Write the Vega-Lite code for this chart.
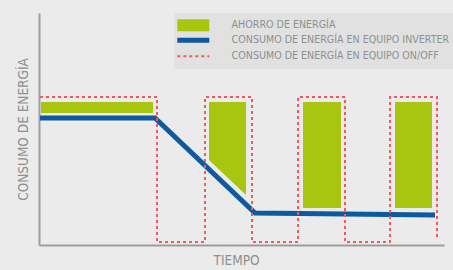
{
  "$schema": "https://vega.github.io/schema/vega-lite/v6.json",
  "width": 405,
  "height": 232,
  "autosize": "none",
  "padding": {"left": 39, "top": 13, "right": 9, "bottom": 25},
  "background": "#ebebeb",
  "config": {
    "view": {"stroke": null},
    "font": "Liberation Sans Narrow, DejaVu Sans Condensed, Roboto, sans-serif",
    "axis": {
      "domainColor": "#9e9e9e",
      "domainWidth": 2,
      "ticks": false,
      "labels": false,
      "grid": false,
      "titleColor": "#8f8f8f",
      "titleFontSize": 13.5,
      "titleFontWeight": "normal",
      "titleFont": "Liberation Sans Narrow, DejaVu Sans Condensed, Roboto, sans-serif"
    }
  },
  "datasets": {
    "ahorro": [
      {"id": 1, "t": 2, "bajo": 132, "alto": 143, "serie": "AHORRO DE ENERGÍA"},
      {"id": 1, "t": 114, "bajo": 132, "alto": 143, "serie": "AHORRO DE ENERGÍA"},
      {"id": 2, "t": 170, "bajo": 85, "alto": 143, "serie": "AHORRO DE ENERGÍA"},
      {"id": 2, "t": 207, "bajo": 50, "alto": 143, "serie": "AHORRO DE ENERGÍA"},
      {"id": 3, "t": 264, "bajo": 37, "alto": 143, "serie": "AHORRO DE ENERGÍA"},
      {"id": 3, "t": 302, "bajo": 37, "alto": 143, "serie": "AHORRO DE ENERGÍA"},
      {"id": 4, "t": 356, "bajo": 37, "alto": 143, "serie": "AHORRO DE ENERGÍA"},
      {"id": 4, "t": 393, "bajo": 37, "alto": 143, "serie": "AHORRO DE ENERGÍA"}
    ],
    "inverter": [
      {"orden": 1, "t": 1, "consumo": 127, "serie": "CONSUMO DE ENERGÍA EN EQUIPO INVERTER"},
      {"orden": 2, "t": 116, "consumo": 127, "serie": "CONSUMO DE ENERGÍA EN EQUIPO INVERTER"},
      {"orden": 3, "t": 216, "consumo": 32, "serie": "CONSUMO DE ENERGÍA EN EQUIPO INVERTER"},
      {"orden": 4, "t": 396, "consumo": 30, "serie": "CONSUMO DE ENERGÍA EN EQUIPO INVERTER"}
    ],
    "onoff": [
      {"orden": 1, "t": 1, "consumo": 148, "serie": "CONSUMO DE ENERGÍA EN EQUIPO ON/OFF"},
      {"orden": 2, "t": 118, "consumo": 148, "serie": "CONSUMO DE ENERGÍA EN EQUIPO ON/OFF"},
      {"orden": 3, "t": 118, "consumo": 3, "serie": "CONSUMO DE ENERGÍA EN EQUIPO ON/OFF"},
      {"orden": 4, "t": 166, "consumo": 3, "serie": "CONSUMO DE ENERGÍA EN EQUIPO ON/OFF"},
      {"orden": 5, "t": 166, "consumo": 148, "serie": "CONSUMO DE ENERGÍA EN EQUIPO ON/OFF"},
      {"orden": 6, "t": 213, "consumo": 148, "serie": "CONSUMO DE ENERGÍA EN EQUIPO ON/OFF"},
      {"orden": 7, "t": 213, "consumo": 3, "serie": "CONSUMO DE ENERGÍA EN EQUIPO ON/OFF"},
      {"orden": 8, "t": 259, "consumo": 3, "serie": "CONSUMO DE ENERGÍA EN EQUIPO ON/OFF"},
      {"orden": 9, "t": 259, "consumo": 148, "serie": "CONSUMO DE ENERGÍA EN EQUIPO ON/OFF"},
      {"orden": 10, "t": 306, "consumo": 148, "serie": "CONSUMO DE ENERGÍA EN EQUIPO ON/OFF"},
      {"orden": 11, "t": 306, "consumo": 3, "serie": "CONSUMO DE ENERGÍA EN EQUIPO ON/OFF"},
      {"orden": 12, "t": 351, "consumo": 3, "serie": "CONSUMO DE ENERGÍA EN EQUIPO ON/OFF"},
      {"orden": 13, "t": 351, "consumo": 148, "serie": "CONSUMO DE ENERGÍA EN EQUIPO ON/OFF"},
      {"orden": 14, "t": 398, "consumo": 148, "serie": "CONSUMO DE ENERGÍA EN EQUIPO ON/OFF"},
      {"orden": 15, "t": 398, "consumo": 5, "serie": "CONSUMO DE ENERGÍA EN EQUIPO ON/OFF"}
    ]
  },
  "encoding": {
    "x": {"field": "t", "type": "quantitative", "scale": {"domain": [0, 405], "nice": false, "zero": false}, "axis": {"title": "TIEMPO", "titlePadding": 8, "titleX": 197}},
    "color": {
      "field": "serie",
      "type": "nominal",
      "scale": {
        "domain": ["AHORRO DE ENERGÍA", "CONSUMO DE ENERGÍA EN EQUIPO INVERTER", "CONSUMO DE ENERGÍA EN EQUIPO ON/OFF"],
        "range": ["#a8c60f", "#0d5a9f", "#ef5a60"]
      },
      "legend": {
        "title": null,
        "orient": "none",
        "legendX": 135,
        "legendY": 0,
        "fillColor": "#e1e1e1",
        "padding": 7,
        "rowPadding": -2,
        "symbolSize": 1024,
        "symbolOffset": 7,
        "labelOffset": 33,
        "labelLimit": 0,
        "labelFontSize": 10.6,
        "labelColor": "#8f8f8f",
        "labelFont": "Liberation Sans Narrow, DejaVu Sans Condensed, Roboto, sans-serif",
        "encode": {
          "symbols": {
            "update": {
              "shape": {"signal": "datum.index == 0 ? 'M-1,-0.375H1V0.375H-1Z' : 'stroke'"},
              "fill": {"signal": "datum.index == 0 ? '#a8c60f' : 'transparent'"},
              "stroke": {"signal": "datum.index == 1 ? '#0d5a9f' : datum.index == 2 ? '#ef5a60' : 'transparent'"},
              "strokeWidth": {"signal": "datum.index == 1 ? 5 : datum.index == 2 ? 2 : 0"},
              "strokeDash": {"signal": "datum.index == 2 ? [3, 3] : [1, 0]"},
              "opacity": {"value": 1}
            }
          }
        }
      }
    }
  },
  "layer": [
    {
      "data": {"name": "ahorro"},
      "mark": {"type": "area", "opacity": 1},
      "encoding": {
        "y": {"field": "bajo", "type": "quantitative", "scale": {"domain": [0, 232], "nice": false, "zero": false}, "axis": {"title": "CONSUMO DE ENERGÍA", "titlePadding": 9}},
        "y2": {"field": "alto"},
        "detail": {"field": "id"}
      }
    },
    {
      "data": {"name": "inverter"},
      "mark": {"type": "line", "strokeWidth": 5, "strokeCap": "butt", "strokeJoin": "miter"},
      "encoding": {
        "y": {"field": "consumo", "type": "quantitative"},
        "order": {"field": "orden"}
      }
    },
    {
      "data": {"name": "onoff"},
      "mark": {"type": "line", "strokeWidth": 2, "strokeDash": [3, 3], "strokeCap": "butt"},
      "encoding": {
        "y": {"field": "consumo", "type": "quantitative"},
        "order": {"field": "orden"}
      }
    }
  ]
}
